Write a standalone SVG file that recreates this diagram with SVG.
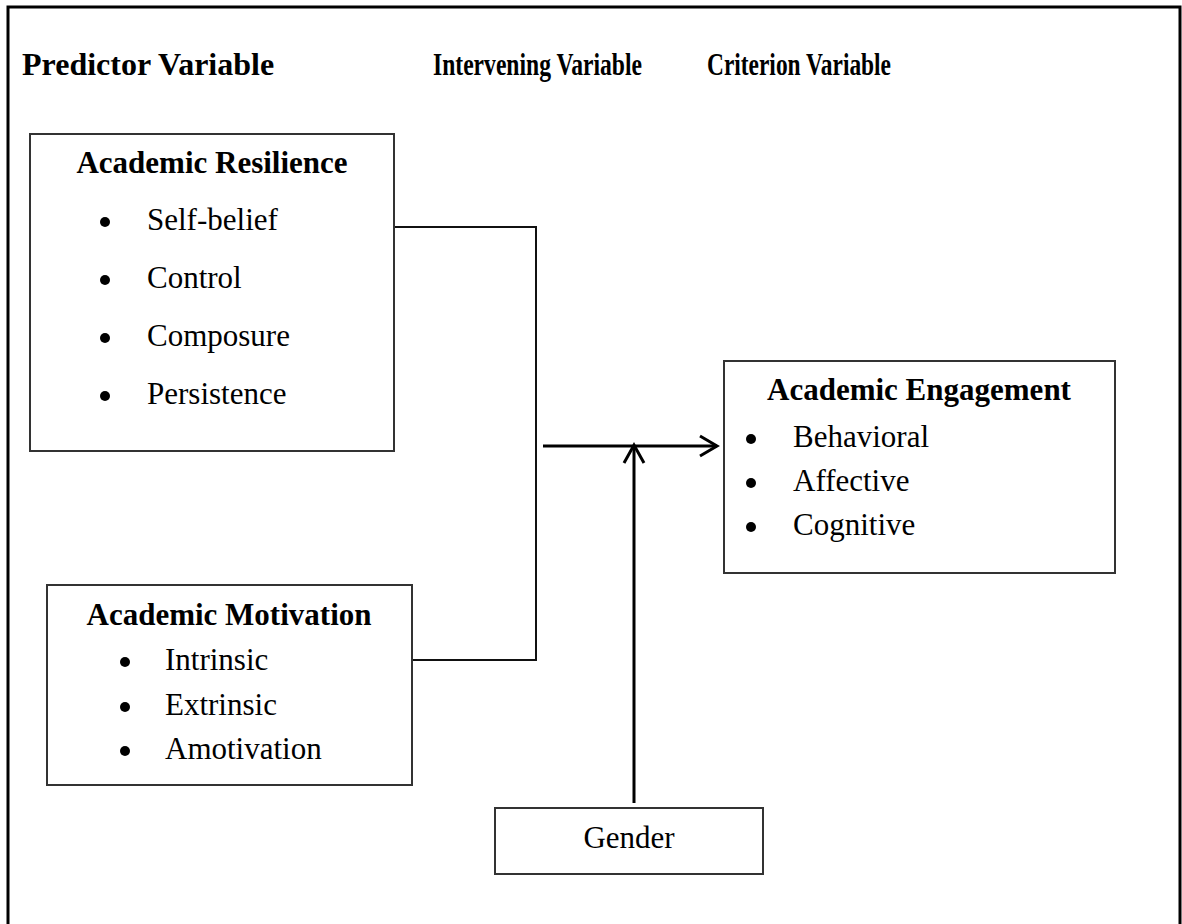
<svg xmlns="http://www.w3.org/2000/svg" width="1182" height="924" viewBox="0 0 1182 924">
<style>
.box{fill:#fff;stroke:#333;stroke-width:2}
.hd{font-family:"Liberation Serif","Times New Roman",serif;font-weight:bold;font-size:32px;fill:#000}
.tt{font-family:"Liberation Serif","Times New Roman",serif;font-weight:bold;font-size:31px;fill:#000}
.it{font-family:"Liberation Serif","Times New Roman",serif;font-size:31px;fill:#000}
.bl{fill:#000}
.ln{fill:none;stroke:#111;stroke-width:2}
.ar{fill:none;stroke:#000;stroke-width:3}
</style>
<rect x="8" y="7" width="1172" height="940" fill="#fff" stroke="#000" stroke-width="3"/>
<g id="headings">
<text class="hd" x="22" y="75">Predictor Variable</text>
<text class="hd" x="433" y="75" textLength="209" lengthAdjust="spacingAndGlyphs">Intervening Variable</text>
<text class="hd" x="707" y="75" textLength="184" lengthAdjust="spacingAndGlyphs">Criterion Variable</text>
</g>
<g id="connectors">
<polyline class="ln" points="394,227 536,227"/>
<polyline class="ln" points="412,660 536,660"/>
<line class="ln" x1="536" y1="226" x2="536" y2="661"/>
<line class="ar" x1="543" y1="446" x2="717" y2="446"/>
<polyline class="ar" points="700,436 717,446 700,456"/>
<line class="ar" x1="634" y1="803" x2="634" y2="446"/>
<polyline class="ar" points="624,463 634,445 644,463"/>
</g>
<g id="resilience">
<rect class="box" x="30" y="134" width="364" height="317"/>
<text class="tt" x="212" y="173" text-anchor="middle">Academic Resilience</text>
<circle class="bl" cx="105" cy="222" r="5"/><text class="it" x="147" y="230">Self-belief</text>
<circle class="bl" cx="105" cy="280" r="5"/><text class="it" x="147" y="288">Control</text>
<circle class="bl" cx="105" cy="338" r="5"/><text class="it" x="147" y="346">Composure</text>
<circle class="bl" cx="105" cy="396" r="5"/><text class="it" x="147" y="404">Persistence</text>
</g>
<g id="motivation">
<rect class="box" x="47" y="585" width="365" height="200"/>
<text class="tt" x="229" y="625" text-anchor="middle">Academic Motivation</text>
<circle class="bl" cx="125" cy="662" r="5"/><text class="it" x="165" y="670">Intrinsic</text>
<circle class="bl" cx="125" cy="707" r="5"/><text class="it" x="165" y="715">Extrinsic</text>
<circle class="bl" cx="125" cy="751" r="5"/><text class="it" x="165" y="759">Amotivation</text>
</g>
<g id="engagement">
<rect class="box" x="724" y="361" width="391" height="212"/>
<text class="tt" x="919" y="400" text-anchor="middle">Academic Engagement</text>
<circle class="bl" cx="751" cy="439" r="5"/><text class="it" x="793" y="447">Behavioral</text>
<circle class="bl" cx="751" cy="483" r="5"/><text class="it" x="793" y="491">Affective</text>
<circle class="bl" cx="751" cy="527" r="5"/><text class="it" x="793" y="535">Cognitive</text>
</g>
<g id="gender">
<rect class="box" x="495" y="808" width="268" height="66"/>
<text class="it" x="629" y="848" text-anchor="middle">Gender</text>
</g>
</svg>
